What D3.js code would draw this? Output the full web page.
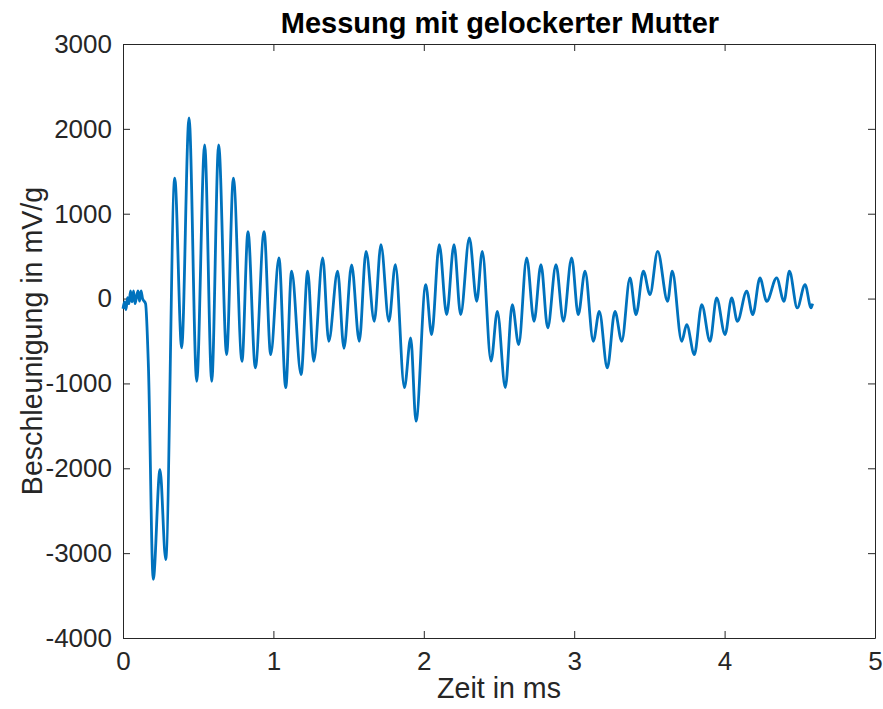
<!DOCTYPE html>
<html>
<head>
<meta charset="utf-8">
<script src="https://cdn.jsdelivr.net/npm/d3@7"></script>
<style>
  body { margin: 0; background: #fff; }
  text { font-family: "Liberation Sans", Arial, Helvetica, sans-serif; }
</style>
</head>
<body>
<div id="chart"></div>
<script>
// Zeitachse (ms) und Beschleunigung (mV/g)
let time_ms = [0.000, 0.010, 0.020, 0.030, 0.040, 0.050, 0.060, 0.070, 0.080, 0.090,
               0.100, 0.110, 0.120, 0.130, 0.150, 0.169, 0.201, 0.246, 0.284, 0.344,
               0.390, 0.439, 0.490, 0.543, 0.590, 0.636, 0.689, 0.734, 0.791, 0.831,
               0.880, 0.938, 0.982, 1.037, 1.082, 1.121, 1.184, 1.228, 1.268, 1.328,
               1.368, 1.427, 1.469, 1.520, 1.571, 1.616, 1.671, 1.715, 1.768, 1.811,
               1.871, 1.913, 1.948, 2.013, 2.052, 2.103, 2.152, 2.201, 2.245, 2.303,
               2.352, 2.389, 2.447, 2.489, 2.542, 2.588, 2.631, 2.684, 2.733, 2.779,
               2.824, 2.879, 2.928, 2.983, 3.027, 3.072, 3.127, 3.167, 3.220, 3.271,
               3.316, 3.371, 3.411, 3.460, 3.504, 3.555, 3.621, 3.652, 3.715, 3.748,
               3.799, 3.848, 3.903, 3.947, 4.003, 4.047, 4.085, 4.147, 4.187, 4.235,
               4.280, 4.346, 4.395, 4.431, 4.483, 4.535, 4.575, 4.585];

let accel = [-120, -40, -130, 10, -60, 90, -40, 90, -60, 20,
             90, -30, 90, 0, -60, -800, -3310, -2015, -3075, 1420,
             -580, 2130, -975, 1810, -975, 1810, -660, 1420, -740, 790,
             -815, 790, -660, 480, -1050, 322, -895, 322, -738, 480,
             -503, 322, -586, 396, -503, 557, -267, 636, -267, 400,
             -1050, -463, -1445, 165, -424, 636, -190, 636, -190, 715,
             -32, 557, -738, -150, -1050, -71, -542, 480, -267, 400,
             -345, 400, -267, 480, -190, 322, -503, -150, -816, -150,
             -503, 243, -190, 322, 47, 557, -32, 322, -503, -306,
             -660, -71, -503, 8, -424, 8, -267, 87, -190, 243,
             -32, 243, -32, 322, -110, 165, -110, -60];

let x_ticks = [0, 1, 2, 3, 4, 5];
let y_ticks = [-4000, -3000, -2000, -1000, 0, 1000, 2000, 3000];

let width = 883;
let height = 709;
let margin = {top: 44, right: 8, bottom: 71, left: 123};
let plot_w = width - margin.left - margin.right;
let plot_h = height - margin.top - margin.bottom;

let svg = d3.select("#chart")
            .append("svg")
            .attr("width", width)
            .attr("height", height);

let x = d3.scaleLinear().domain([0, 5]).range([0, plot_w]);
let y = d3.scaleLinear().domain([-4000, 3000]).range([plot_h, 0]);

let g = svg.append("g")
           .attr("transform", "translate(" + margin.left + "," + margin.top + ")");

let tick_len = 7;
let axis_col = "#262626";
let plain = function(d) { return String(d); };

// Achsen im MATLAB-Stil: Ticks nach innen, Box rundherum
let ax_bottom = g.append("g")
    .attr("transform", "translate(0," + plot_h + ")")
    .call(d3.axisBottom(x).tickValues(x_ticks).tickFormat(plain)
            .tickSizeInner(-tick_len).tickSizeOuter(0).tickPadding(14));
let ax_top = g.append("g")
    .call(d3.axisTop(x).tickValues(x_ticks).tickSizeInner(-tick_len).tickSizeOuter(0).tickFormat(""));
let ax_left = g.append("g")
    .call(d3.axisLeft(y).tickValues(y_ticks).tickFormat(plain)
            .tickSizeInner(-tick_len).tickSizeOuter(0).tickPadding(11));
let ax_right = g.append("g")
    .attr("transform", "translate(" + plot_w + ",0)")
    .call(d3.axisRight(y).tickValues(y_ticks).tickSizeInner(-tick_len).tickSizeOuter(0).tickFormat(""));

[ax_bottom, ax_top, ax_left, ax_right].forEach(function(a) {
  a.selectAll("path").attr("stroke", axis_col).attr("stroke-width", 1);
  a.selectAll("line").attr("stroke", axis_col).attr("stroke-width", 1);
  a.selectAll("text")
   .attr("fill", axis_col)
   .style("font-size", "26px")
   .style("font-family", "'Liberation Sans', Arial, sans-serif");
});

let line = d3.line()
             .curve(d3.curveMonotoneX)
             .x(function(d) { return x(d[0]); })
             .y(function(d) { return y(d[1]); });

let pts = time_ms.map(function(t, i) { return [t, accel[i]]; });

g.append("path")
 .datum(pts)
 .attr("d", line)
 .attr("fill", "none")
 .attr("stroke", "#0072BD")
 .attr("stroke-width", 2.8)
 .attr("stroke-linejoin", "round");

// Titel und Achsenbeschriftungen
svg.append("text")
   .attr("x", 500)
   .attr("y", 33)
   .attr("text-anchor", "middle")
   .style("font-size", "29px")
   .style("font-weight", "bold")
   .attr("fill", "#000")
   .text("Messung mit gelockerter Mutter");

svg.append("text")
   .attr("x", margin.left + plot_w / 2)
   .attr("y", 698)
   .attr("text-anchor", "middle")
   .style("font-size", "28.6px")
   .attr("fill", axis_col)
   .text("Zeit in ms");

svg.append("text")
   .attr("transform", "translate(42," + (margin.top + plot_h / 2) + ") rotate(-90)")
   .attr("text-anchor", "middle")
   .style("font-size", "28.6px")
   .attr("fill", axis_col)
   .text("Beschleunigung in mV/g");
</script>
</body>
</html>
